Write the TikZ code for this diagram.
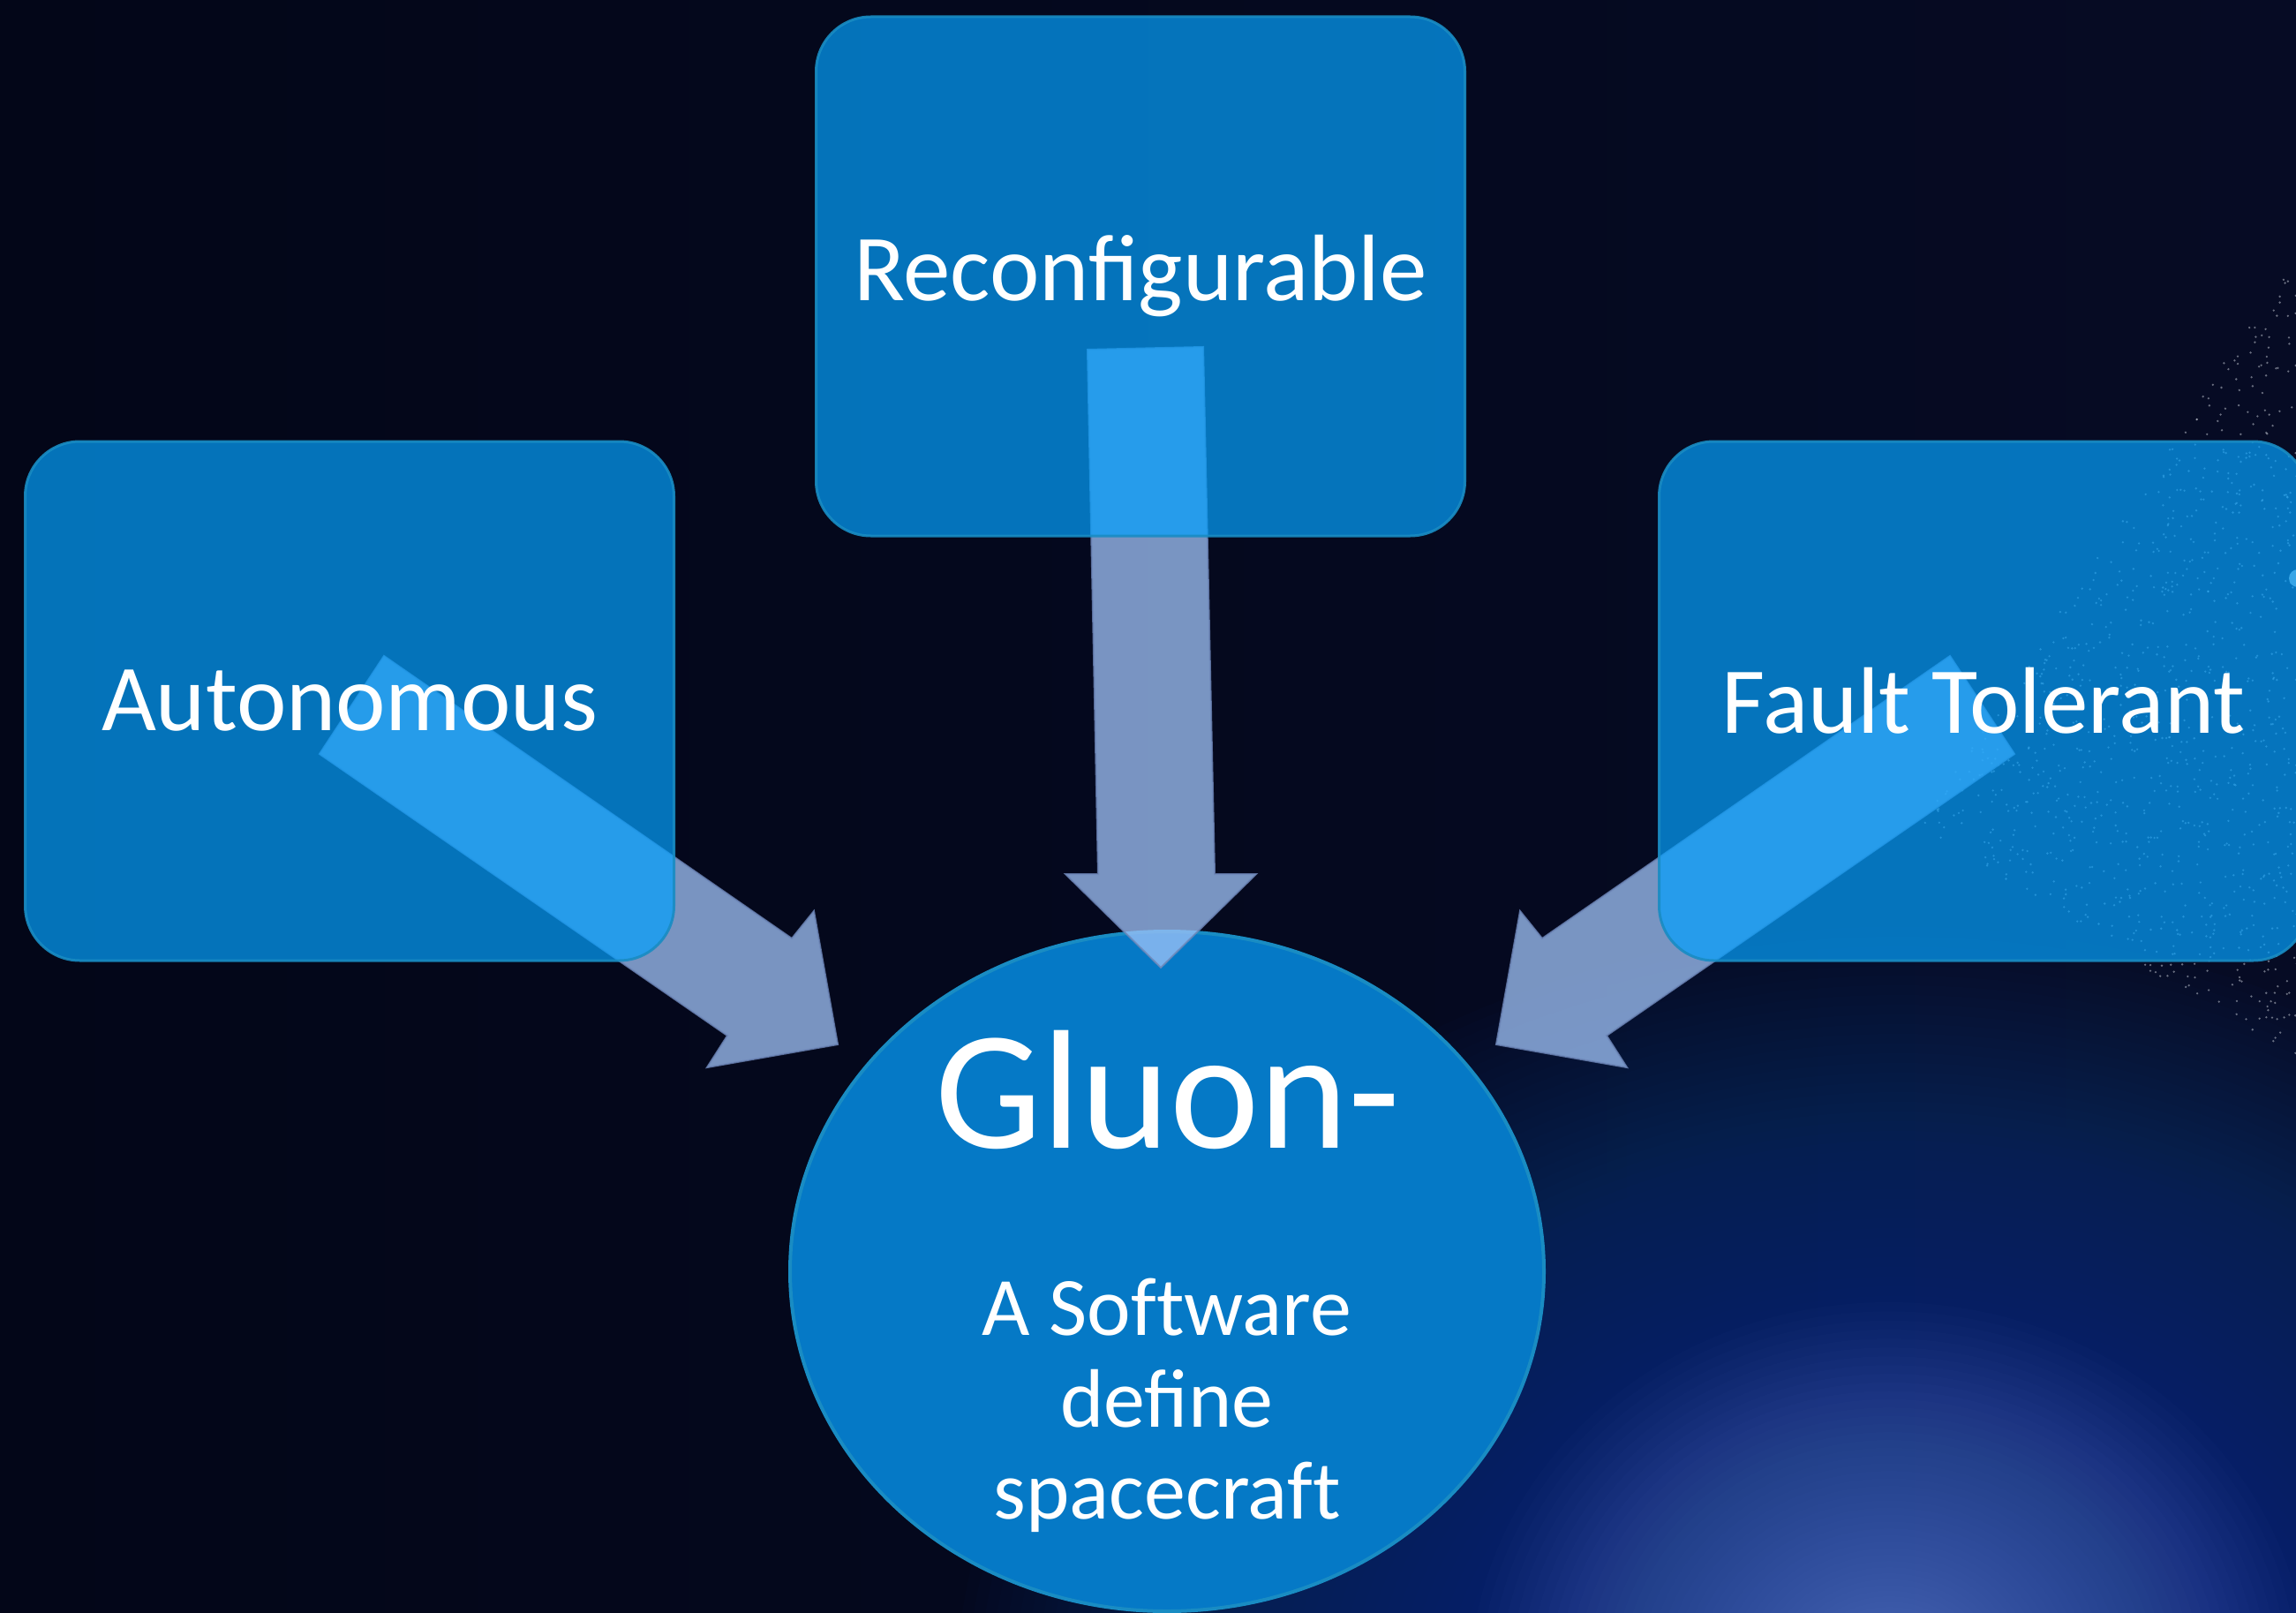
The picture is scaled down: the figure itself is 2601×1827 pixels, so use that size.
\documentclass[tikz,border=0pt]{standalone}
\usepackage{fontspec}
\setmainfont{Carlito}
\usetikzlibrary{shapes.geometric}
\definecolor{bgL}{RGB}{3,6,24}
\definecolor{bgR}{RGB}{6,11,36}
\definecolor{hazec}{RGB}{38,72,165}
\definecolor{corec}{RGB}{130,165,230}
\definecolor{boxblue}{RGB}{5,160,252}
\definecolor{edgeblue}{RGB}{25,140,195}
\definecolor{coreblue}{RGB}{5,121,198}
\definecolor{arrowc}{RGB}{161,196,249}
\definecolor{arrowedge}{RGB}{110,135,185}
\definecolor{starc}{RGB}{205,210,220}
\pgfdeclarelayer{back}
\pgfsetlayers{back,main}
\begin{document}
\begin{tikzpicture}[x=1pt,y=-1pt,
  box/.style={rectangle, rounded corners=62pt, minimum width=735pt, minimum height=588pt, inner sep=0pt,
    fill=boxblue, fill opacity=0.71, draw=edgeblue, draw opacity=0.9, line width=3pt,
    text=white, text opacity=1, font=\fontsize{107}{128}\selectfont},
  core/.style={ellipse, minimum width=854pt, minimum height=770pt, inner sep=0pt,
    fill=coreblue, draw=edgeblue, line width=4pt},
  coretext/.style={text=white, inner sep=0pt, anchor=base},
  blockarrow/.style={fill=arrowc, fill opacity=0.75, draw=arrowedge, draw opacity=0.8, line width=2pt, line join=miter}
]
\useasboundingbox (0,0) rectangle (2601,1827);
\begin{pgfonlayer}{back}
  \shade[left color=bgL, right color=bgR] (0,0) rectangle (2601,1827);
  \begin{scope}
    \clip (0,0) rectangle (2601,1827);
    % broad haze
    \foreach \i in {0,...,79}{
      \pgfmathsetmacro{\f}{1-\i/80}
      \fill[hazec, opacity=0.022] (2150,1950) ellipse [x radius={20+1050*\f}, y radius={20+880*\f}];
    }
    % bright glow at the bottom
    \foreach \i in {0,...,59}{
      \pgfmathsetmacro{\f}{(1-\i/60)^1.5}
      \fill[corec, opacity=0.02] (2140,1910) ellipse [x radius={15+460*\f}, y radius={15+420*\f}];
    }
  \end{scope}
  % star field
  \pgfmathsetseed{12}
  \foreach \k in {1,...,1100}{
    \pgfmathsetmacro{\u}{rnd}
    \pgfmathsetmacro{\v}{rnd}
    \pgfmathsetmacro{\uu}{ifthenelse(\u+\v>1,1-\u,\u)}
    \pgfmathsetmacro{\vv}{ifthenelse(\u+\v>1,1-\v,\v)}
    \pgfmathsetmacro{\sx}{2630-455*\uu}
    \pgfmathsetmacro{\sy}{240+695*\uu+985*\vv}
    \fill[starc, opacity=0.5] (\sx,\sy) circle [radius=1.3];
  }
  \fill[gray!60] (2603,655) circle [radius=10];
\end{pgfonlayer}

% centre
\node[core] (core) at (1322,1440) {};

% block arrows (over the centre, under the boxes)
\coordinate (tipA) at (949,1183);
\coordinate (tipR) at (1315,1096);
\coordinate (tipF) at (1695,1183);
\path[blockarrow] (435,743) -- (897,1063) -- (922,1032) -- (tipA) -- (801,1209) -- (824,1173) -- (362,854) -- cycle;
\path[blockarrow] (1232,396) -- (1363,393) -- (1376,990) -- (1423,990) -- (tipR) -- (1207,990) -- (1244,990) -- cycle;
\path[blockarrow] (2209,743) -- (1747,1063) -- (1722,1032) -- (tipF) -- (1843,1209) -- (1820,1173) -- (2282,854) -- cycle;

% boxes
\node[box] (recon) at (1292,313) {Reconfigurable};
\node[box] (auto) at (396,794) {Autonomous};
\node[box] (fault) at (2247,794) {Fault Tolerant};

\node[coretext, font=\fontsize{192}{230}\selectfont] (gluon) at (1323,1300) {Gluon-};
\node[coretext, font=\fontsize{94}{104}\selectfont] (sw1) at (1322,1512) {A Sof\kern0pt tware};
\node[coretext, font=\fontsize{94}{104}\selectfont] (sw2) at (1322,1616) {define};
\node[coretext, font=\fontsize{94}{104}\selectfont] (sw3) at (1322,1720) {spacecraf\kern0pt t};
\end{tikzpicture}
\end{document}
